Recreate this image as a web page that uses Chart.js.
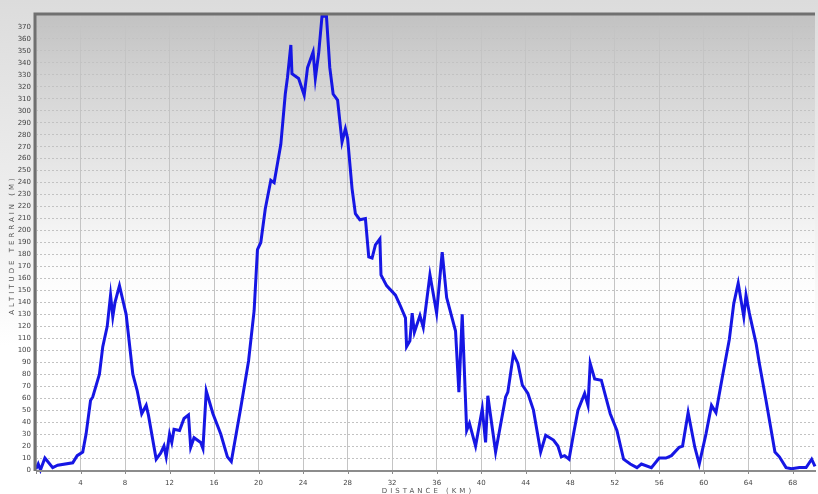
<!DOCTYPE html>
<html>
<head>
<meta charset="utf-8">
<script src="https://cdn.jsdelivr.net/npm/chart.js@4/dist/chart.umd.min.js"></script>
<style>
  html, body { margin: 0; padding: 0; background: #ffffff; }
  #wrap { width: 818px; height: 494px; position: relative; }
</style>
</head>
<body>
<div id="wrap"><canvas id="profile"></canvas></div>
<script>
// Elevation profile along the route: distance (km) and altitude (m)
const distanceKm = [
  0, 0.2, 0.4, 0.8, 1.5, 1.95, 3.3, 3.7, 4.2, 4.5, 4.9, 5.1, 5.7, 6.0, 6.4, 6.7, 6.9, 7.1, 7.5,
  8.1, 8.7, 9.1, 9.5, 9.9, 10.1, 10.8, 11.2, 11.5, 11.7, 12.0, 12.2, 12.4, 12.9, 13.3, 13.7,
  13.9, 14.2, 14.8, 15.0, 15.3, 15.9, 16.6, 17.2, 17.55, 18.4, 19.1, 19.6, 19.9, 20.2, 20.6,
  21.1, 21.4, 22.0, 22.4, 22.6, 22.9, 23.0, 23.6, 24.1, 24.4, 24.9, 25.1, 25.4, 25.7, 26.1,
  26.4, 26.7, 27.1, 27.5, 27.8, 28.0, 28.4, 28.7, 29.1, 29.6, 29.9, 30.2, 30.5, 30.9, 31.0,
  31.5, 32.3, 32.7, 33.2, 33.3, 33.6, 33.8, 34.0, 34.5, 34.8, 35.4, 36.0, 36.5, 36.9, 37.7,
  38.0, 38.3, 38.7, 38.95, 39.5, 40.1, 40.4, 40.6, 41.3, 42.2, 42.4, 42.9, 43.3, 43.7, 44.2,
  44.7, 45.35, 45.8, 46.5, 46.9, 47.2, 47.5, 47.9, 48.3, 48.7, 49.3, 49.6, 49.8, 50.2, 50.8,
  51.6, 52.2, 52.8, 53.4, 54.0, 54.4, 55.3, 56.0, 56.6, 57.1, 57.8, 58.1, 58.6, 59.2, 59.6,
  60.2, 60.7, 61.1, 61.7, 62.3, 62.7, 63.1, 63.6, 63.8, 64.1, 64.7, 65.0, 65.6, 66.4, 66.8,
  67.4, 67.9, 68.6, 69.2, 69.7, 70.0
];
const altitudeM = [
  1, 5, 0, 10, 2, 4, 6, 12, 15, 30, 58, 61, 80, 103, 120, 146, 128, 140, 154,
  130, 80, 66, 47, 54, 46, 9, 14, 20, 11, 30, 23, 34, 33, 43, 46,
  19, 27, 23, 18, 66, 47, 30, 11, 7, 52, 91, 133, 184, 190, 218,
  242, 240, 272, 314, 328, 355, 331, 327, 313, 336, 349, 327, 348, 379, 379,
  336, 314, 309, 274, 285, 277, 235, 214, 209, 210, 178, 177, 188, 193, 163,
  154, 146, 138, 127, 103, 108, 131, 115, 129, 119, 163, 131, 182, 144, 116,
  65, 130, 33, 39, 20, 51, 23, 62, 15, 61, 65, 97, 89, 71, 64,
  50, 15, 29, 25, 20, 11, 12, 9, 30, 50, 64, 54, 89, 76, 75,
  47, 33, 9, 5, 2, 5, 2, 10, 10, 12, 19, 20, 48, 19, 5,
  30, 54, 48, 79, 109, 139, 156, 128, 146, 131, 106, 89, 58, 15, 11,
  2, 1, 2, 2, 9, 3
];

// Axis settings and titles
const xStepKm = 4;
const yStepM = 10;
const yLastLabel = 370;
const xTitle = 'DISTANCE (KM)';
const yTitle = 'ALTITUDE TERRAIN (M)';

const points = distanceKm.map((d, i) => ({ x: d, y: altitudeM[i] }));

// Paints the page and the shaded plot area, then the frame, minor ticks and titles
const decor = {
  id: 'decor',
  beforeDraw(chart) {
    const { ctx, chartArea: a, width, height } = chart;
    ctx.save();
    const page = ctx.createLinearGradient(0, 0, 0, height);
    page.addColorStop(0, '#dcdcdc');
    page.addColorStop(0.45, '#f0f0f0');
    page.addColorStop(0.7, '#ffffff');
    ctx.fillStyle = page;
    ctx.fillRect(0, 0, width, height);
    const plot = ctx.createLinearGradient(0, a.top, 0, a.bottom);
    plot.addColorStop(0, '#c2c2c2');
    plot.addColorStop(0.15, '#d4d4d4');
    plot.addColorStop(0.35, '#e8e8e8');
    plot.addColorStop(0.55, '#fbfbfb');
    plot.addColorStop(0.65, '#ffffff');
    ctx.fillStyle = plot;
    ctx.fillRect(a.left, a.top, a.right - a.left, a.bottom - a.top);
    ctx.restore();
  },
  afterDraw(chart) {
    const { ctx, chartArea: a } = chart;
    const xs = chart.scales.x;
    ctx.save();
    // minor ticks along the distance axis
    ctx.strokeStyle = '#8a8a8a';
    ctx.lineWidth = 1;
    for (let k = 0; k <= xs.max; k += 1) {
      const px = Math.round(xs.getPixelForValue(k)) + 0.5;
      ctx.beginPath();
      ctx.moveTo(px, a.bottom);
      ctx.lineTo(px, a.bottom + (k % xStepKm === 0 ? 4 : 2));
      ctx.stroke();
    }
    // frame
    ctx.strokeStyle = '#8c8c8c';
    ctx.lineWidth = 2;
    ctx.beginPath();
    ctx.moveTo(a.left, a.bottom + 1);
    ctx.lineTo(a.right, a.bottom + 1);
    ctx.stroke();
    ctx.strokeStyle = '#707070';
    ctx.lineWidth = 3;
    ctx.beginPath();
    ctx.moveTo(a.left - 1, a.bottom + 1);
    ctx.lineTo(a.left - 1, a.top - 1);
    ctx.lineTo(a.right, a.top - 1);
    ctx.stroke();
    // axis titles, letter-spaced
    ctx.fillStyle = '#555555';
    ctx.font = '7px "DejaVu Sans"';
    ctx.letterSpacing = '3px';
    ctx.textAlign = 'center';
    ctx.textBaseline = 'top';
    ctx.fillText(xTitle, 428, 488);
    ctx.translate(12, 245);
    ctx.rotate(-Math.PI / 2);
    ctx.textBaseline = 'middle';
    ctx.fillText(yTitle, 0, 0);
    ctx.restore();
  }
};

new Chart(document.getElementById('profile'), {
  type: 'line',
  data: {
    datasets: [{
      data: points,
      borderColor: '#1616e4',
      borderWidth: 3,
      pointRadius: 0,
      tension: 0,
      fill: false,
      clip: false
    }]
  },
  options: {
    responsive: true,
    maintainAspectRatio: false,
    animation: false,
    layout: { padding: { top: 15, right: 3, left: 0, bottom: 0 } },
    plugins: { legend: { display: false }, tooltip: { enabled: false } },
    scales: {
      x: {
        type: 'linear',
        min: 0,
        max: 70,
        afterFit(s) { s.height = 24; },
        border: { display: false },
        grid: { color: '#c4c4c4', lineWidth: 1, drawTicks: false },
        ticks: {
          stepSize: xStepKm,
          includeBounds: false,
          padding: 9,
          color: '#444444',
          font: { family: 'DejaVu Sans', size: 7 },
          maxRotation: 0,
          callback: v => (v === 0 ? '' : String(v))
        }
      },
      y: {
        min: 0,
        max: 380,
        afterFit(s) { s.width = 36; },
        border: { display: false, dash: [2, 2] },
        grid: { color: '#c2c2c2', lineWidth: 1, drawTicks: false },
        ticks: {
          stepSize: yStepM,
          includeBounds: false,
          autoSkip: false,
          padding: 5,
          color: '#444444',
          font: { family: 'DejaVu Sans', size: 7 },
          callback: v => (v > yLastLabel ? '' : String(v))
        }
      }
    }
  },
  plugins: [decor]
});
</script>
</body>
</html>
